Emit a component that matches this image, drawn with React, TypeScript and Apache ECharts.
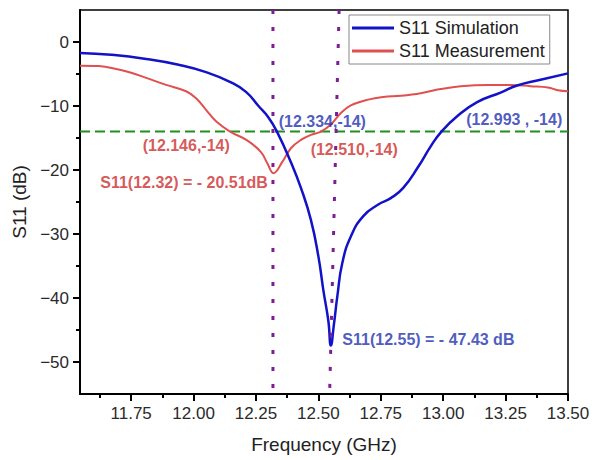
import React, { useEffect, useRef } from "react";
import * as echarts from "echarts";

const xRange = [11.545, 13.5];
const yRange = [-55, 5];

const simFreq = [11.545, 11.67, 11.81, 11.94, 12.05, 12.15, 12.21, 12.26, 12.3, 12.334, 12.39, 12.43, 12.47, 12.5, 12.52, 12.54, 12.55, 12.562, 12.576, 12.596, 12.63, 12.68, 12.74, 12.79, 12.84, 12.9, 12.95, 12.993, 13.056, 13.136, 13.23, 13.296, 13.39, 13.5];
const simDb = [-1.7, -2.0, -2.65, -3.55, -4.7, -6.3, -7.8, -10.0, -11.8, -14, -18.8, -22.8, -27.8, -33.5, -38.8, -43.6, -47.43, -44.2, -39.7, -34.5, -30.4, -27.2, -25.4, -24.4, -22.8, -19.5, -16.3, -14, -11.6, -9.4, -7.9, -6.8, -5.9, -4.9];

const measFreq = [11.545, 11.62, 11.7, 11.75, 11.81, 11.89, 11.97, 12.01, 12.05, 12.09, 12.146, 12.216, 12.27, 12.296, 12.32, 12.356, 12.39, 12.43, 12.47, 12.51, 12.55, 12.59, 12.63, 12.7, 12.76, 12.83, 12.91, 12.99, 13.07, 13.18, 13.27, 13.35, 13.42, 13.46, 13.5];
const measDb = [-3.7, -3.75, -4.3, -4.8, -5.6, -6.7, -7.7, -8.8, -10.6, -12.4, -14, -15.4, -17.2, -19.0, -20.51, -18.7, -16.6, -15.3, -14.5, -14, -12.9, -11.1, -9.9, -9.0, -8.6, -8.4, -8.0, -7.35, -6.9, -6.7, -6.7, -6.9, -7.1, -7.55, -7.7];

const threshold = -14;
const marker1 = [[12.318, 5], [12.318, -55]];
const marker2 = [[12.583, 5], [12.545, -55]];

const xMajorTicks = [11.75, 12.0, 12.25, 12.5, 12.75, 13.0, 13.25, 13.5];
const xMinorTicks = [11.625, 11.875, 12.125, 12.375, 12.625, 12.875, 13.125, 13.375];
const yMajorTicks = [-50, -40, -30, -20, -10, 0];
const yMinorTicks = [-45, -35, -25, -15, -5];

const annotations = [
  { text: "(12.334,-14)", f: 12.341, db: -12.4, color: "#2230b0" },
  { text: "(12.993 , -14)", f: 13.092, db: -12.14, color: "#2230b0" },
  { text: "(12.146,-14)", f: 11.796, db: -16.16, color: "#cc2e2e" },
  { text: "(12.510,-14)", f: 12.469, db: -16.83, color: "#cc2e2e" },
  { text: "S11(12.32) = - 20.51dB", f: 11.626, db: -22.03, color: "#cc2e2e" },
  { text: "S11(12.55) = - 47.43 dB", f: 12.596, db: -46.5, color: "#2230b0" },
];

const FONT = "Liberation Sans, Arial, sans-serif";
const minus = (v: number) => String(v).replace("-", "\u2212");

export default function App() {
  const ref = useRef<HTMLDivElement>(null);
  useEffect(() => {
    if (!ref.current) return;
    const chart = echarts.init(ref.current, undefined, { renderer: "svg" });
    const baseX = {
      type: "value",
      min: xRange[0],
      max: xRange[1],
      position: "bottom",
      splitLine: { show: false },
    };
    const baseY = {
      type: "value",
      min: yRange[0],
      max: yRange[1],
      position: "left",
      splitLine: { show: false },
    };
    chart.setOption({
      animation: false,
      textStyle: { fontFamily: FONT },
      grid: {
        left: 80,
        top: 10,
        right: 31,
        bottom: 66,
        show: true,
        borderColor: "#000",
        borderWidth: 1.5,
        backgroundColor: "transparent",
      },
      legend: {
        data: ["S11 Simulation", "S11 Measurement"],
        orient: "vertical",
        left: 349,
        top: 15,
        padding: [4, 5, 4, 3],
        itemGap: 5,
        itemWidth: 42,
        itemHeight: 3,
        icon: "rect",
        backgroundColor: "#fff",
        borderColor: "#888",
        borderWidth: 1,
        selectedMode: false,
        textStyle: { fontSize: 18, color: "#222", fontFamily: FONT },
      },
      xAxis: [
        {
          ...baseX,
          name: "Frequency (GHz)",
          nameLocation: "middle",
          nameGap: 41,
          nameTextStyle: { fontSize: 19, color: "#222", fontFamily: FONT },
          axisLine: { show: true, onZero: false, lineStyle: { color: "#000", width: 2 } },
          axisTick: { show: true, customValues: xMajorTicks, length: 7, lineStyle: { color: "#000", width: 2 } },
          axisLabel: {
            show: true,
            customValues: xMajorTicks,
            formatter: (v: number) => v.toFixed(2),
            fontSize: 17,
            color: "#2a2a2a",
            margin: 11,
            fontFamily: FONT,
          },
        },
        {
          ...baseX,
          axisLine: { show: false, onZero: false },
          axisTick: { show: true, customValues: xMinorTicks, length: 4, lineStyle: { color: "#000", width: 2 } },
          axisLabel: { show: false },
        },
      ],
      yAxis: [
        {
          ...baseY,
          name: "S11 (dB)",
          nameLocation: "middle",
          nameGap: 46,
          nameTextStyle: { fontSize: 19, color: "#222", fontFamily: FONT },
          axisLine: { show: true, onZero: false, lineStyle: { color: "#000", width: 2 } },
          axisTick: { show: true, customValues: yMajorTicks, length: 7, lineStyle: { color: "#000", width: 2 } },
          axisLabel: {
            show: true,
            customValues: yMajorTicks,
            formatter: (v: number) => minus(v),
            fontSize: 17,
            color: "#2a2a2a",
            margin: 11,
            fontFamily: FONT,
          },
        },
        {
          ...baseY,
          axisLine: { show: false, onZero: false },
          axisTick: { show: true, customValues: yMinorTicks, length: 4, lineStyle: { color: "#000", width: 2 } },
          axisLabel: { show: false },
        },
      ],
      series: [
        {
          name: "threshold",
          type: "line",
          data: [[xRange[0], threshold], [xRange[1], threshold]],
          symbol: "none",
          silent: true,
          lineStyle: { color: "#1f8f1f", width: 2, type: [10, 5] },
          z: 2,
        },
        {
          name: "S11 Simulation",
          type: "line",
          data: simFreq.map((f, i) => [f, simDb[i]]),
          symbol: "none",
          smooth: 0.5,
          lineStyle: { color: "#1212c8", width: 2.5 },
          itemStyle: { color: "#1212c8" },
          z: 4,
        },
        {
          name: "S11 Measurement",
          type: "line",
          data: measFreq.map((f, i) => [f, measDb[i]]),
          symbol: "none",
          smooth: 0.4,
          lineStyle: { color: "#e0504f", width: 2 },
          itemStyle: { color: "#e0504f" },
          z: 3,
        },
        {
          name: "marker1",
          type: "line",
          data: marker1,
          symbol: "none",
          silent: true,
          lineStyle: { color: "#7d1e94", width: 3, type: [4, 13] },
          z: 5,
        },
        {
          name: "marker2",
          type: "line",
          data: marker2,
          symbol: "none",
          silent: true,
          lineStyle: { color: "#7d1e94", width: 3, type: [4, 13] },
          z: 5,
        },
        {
          name: "notes",
          type: "scatter",
          symbolSize: 0,
          silent: true,
          z: 6,
          data: annotations.map((a) => ({
            value: [a.f, a.db],
            name: a.text,
            label: {
              show: true,
              position: "right",
              distance: 0,
              formatter: a.text,
              color: a.color,
              fontSize: 16,
              fontWeight: "bold",
              fontFamily: FONT,
            },
          })),
        },
      ],
    });
    return () => chart.dispose();
  }, []);
  return (
    <div
      ref={ref}
      style={{ position: "fixed", left: 0, top: 0, width: 599, height: 460, background: "#fff" }}
    />
  );
}
